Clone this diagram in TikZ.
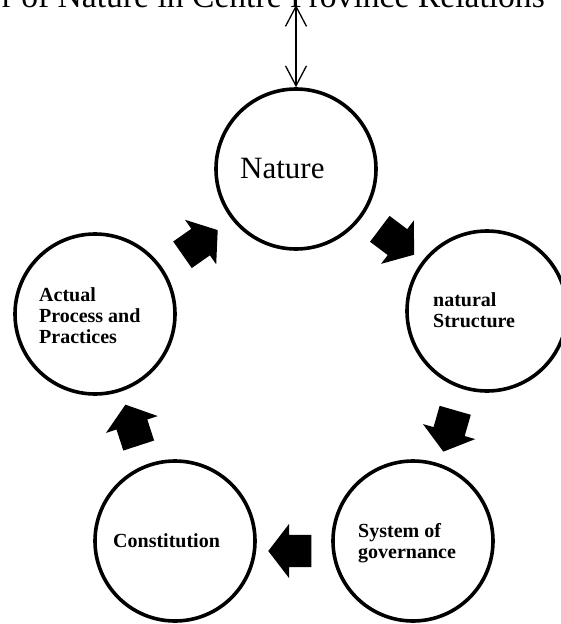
\documentclass[tikz,border=0pt]{standalone}
\usepackage{fontspec}
\setmainfont{Liberation Serif}
\usetikzlibrary{arrows.meta,shapes.arrows}

\begin{document}
\begin{tikzpicture}[x=1pt,y=-1pt,>={Straight Barb[length=20pt,width=21pt]},
  ring/.style={circle,draw,line width=3.6pt,minimum size=160pt,inner sep=0pt},
  lbl/.style={font=\fontsize{20}{21}\selectfont\bfseries,align=left,inner sep=0pt,anchor=west},
  blk/.style={single arrow,fill=black,inner xsep=0pt,inner ysep=16pt,minimum height=43pt,
    single arrow head extend=11pt,single arrow tip angle=105}]
  \useasboundingbox (0,0) rectangle (561,624);
  % title, cut at the top edge
  \node[anchor=base east,inner sep=0pt,font=\fontsize{33.6}{34}\selectfont] (ttl) at (545,7)
    {r of Nature in Centre Province Relations};
  \coordinate (up) at (296,5);
  % circles
  \foreach \n/\x/\y in {nat/296/169,str/487/311,gov/413/541,con/175/541,act/95/314}
    \node[ring] (\n) at (\x,\y) {};
  \draw[<->,line width=1.3pt] (up) -- (nat.north);
  % labels
  \node[lbl,font=\fontsize{31}{31}\selectfont] (natL) at (240,168) {Nature};
  \node[lbl] (strL) at (433,310) {natural\\Structure};
  \node[lbl] (govL) at (358,543) {System of\\governance};
  \node[lbl] (conL) at (113,541) {Constitution};
  \node[lbl] (actL) at (39,316) {Actual\\Process and\\Practices};
  % block arrows round the cycle
  \foreach \n/\x/\y/\a in {1/195/246/35,2/392/238/-37,3/451/425/-106,4/296/551/180,5/134/431/108}
    \node[blk,rotate=\a] (ar\n) at (\x,\y) {};
\end{tikzpicture}
\end{document}
